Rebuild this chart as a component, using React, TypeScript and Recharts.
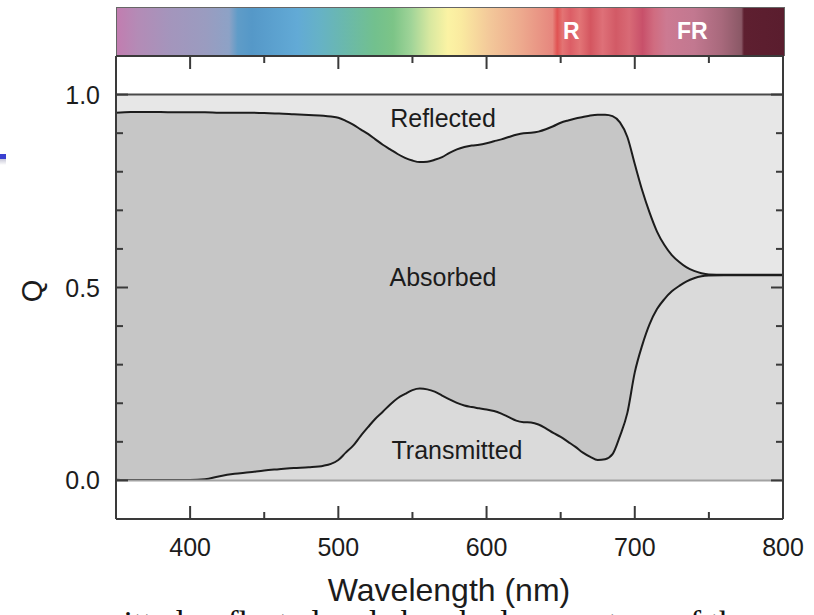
import { ComposedChart, Area, XAxis, YAxis, ReferenceArea, ReferenceLine } from "recharts";

// wavelength (nm)
const wavelength = [
  350, 360, 370, 380, 390, 400, 410, 420, 430, 440, 450, 460, 470, 480, 490, 495, 500, 505, 510, 515,
  520, 525, 530, 535, 540, 545, 550, 555, 560, 565, 570, 575, 580, 585, 590, 595, 600, 605, 610, 615,
  620, 625, 630, 635, 640, 645, 650, 655, 660, 665, 670, 675, 680, 685, 690, 695, 700, 705, 710, 715,
  720, 725, 730, 735, 740, 745, 750, 760, 770, 780, 790, 800,
];

// 1 - reflected (upper edge of the absorbed band)
const notReflected = [
  0.953, 0.955, 0.955, 0.955, 0.954, 0.954, 0.954, 0.953, 0.953, 0.953, 0.952, 0.951, 0.949, 0.947, 0.945, 0.943, 0.94, 0.932, 0.922, 0.91,
  0.898, 0.884, 0.87, 0.858, 0.846, 0.836, 0.829, 0.825, 0.826, 0.831, 0.838, 0.849, 0.858, 0.864, 0.868, 0.87, 0.874, 0.879, 0.884, 0.89,
  0.896, 0.9, 0.901, 0.904, 0.91, 0.918, 0.927, 0.933, 0.938, 0.942, 0.946, 0.948, 0.948, 0.944, 0.928, 0.89, 0.82, 0.752, 0.694, 0.645,
  0.61, 0.584, 0.566, 0.552, 0.543, 0.537, 0.534, 0.533, 0.533, 0.533, 0.533, 0.533,
];

// transmitted (lower edge of the absorbed band)
const transmitted = [
  0.002, 0.001, 0.001, 0.001, 0.001, 0.001, 0.003, 0.011, 0.017, 0.021, 0.026, 0.029, 0.032, 0.034, 0.038, 0.043, 0.053, 0.072, 0.09, 0.115,
  0.138, 0.16, 0.178, 0.197, 0.213, 0.224, 0.234, 0.238, 0.236, 0.23, 0.22, 0.21, 0.201, 0.194, 0.19, 0.187, 0.184, 0.18, 0.173, 0.164,
  0.155, 0.151, 0.15, 0.145, 0.135, 0.123, 0.113, 0.1, 0.087, 0.072, 0.061, 0.053, 0.055, 0.068, 0.115, 0.175, 0.28, 0.35, 0.405, 0.444,
  0.47, 0.49, 0.504, 0.516, 0.524, 0.529, 0.531, 0.532, 0.532, 0.532, 0.532, 0.532,
];

const xTicks = [400, 450, 500, 550, 600, 650, 700, 750, 800];
const yTicks = [0, 0.1, 0.2, 0.3, 0.4, 0.5, 0.6, 0.7, 0.8, 0.9, 1.0];
const yLabelled = [0, 0.5, 1.0];

const data = wavelength.map((w, i) => ({ w, top: notReflected[i], trans: transmitted[i] }));

const FONT = "'Liberation Sans', Arial, Helvetica, sans-serif";
const INK = "#1c1c1c";
const AXIS = "#3a3a3a";

const isMajorY = (v: number) => yLabelled.some((l) => Math.abs(l - v) < 1e-6);

function BottomTick({ x, y, payload }: any) {
  const v = payload.value as number;
  const major = v % 100 === 0;
  return (
    <g>
      {v < 800 && <line x1={x} x2={x} y1={y} y2={y - (major ? 13 : 7)} stroke={AXIS} strokeWidth={2} />}
      {major && (
        <text x={x} y={y + 37} textAnchor="middle" fontSize={25} fill={INK} fontFamily={FONT}>{v}</text>
      )}
    </g>
  );
}

function TopTick({ x, y, payload }: any) {
  const v = payload.value as number;
  if (v >= 800) return <g />;
  const major = v % 100 === 0;
  return <line x1={x} x2={x} y1={y} y2={y + (major ? 13 : 7)} stroke={AXIS} strokeWidth={2} />;
}

function LeftTick({ x, y, payload }: any) {
  const v = payload.value as number;
  const major = isMajorY(v);
  return (
    <g>
      <line x1={x} x2={x + (major ? 12 : 7)} y1={y} y2={y} stroke={AXIS} strokeWidth={2} />
      {major && (
        <text x={x - 16} y={y} dy="0.36em" textAnchor="end" fontSize={25} fill={INK} fontFamily={FONT}>
          {v.toFixed(1)}
        </text>
      )}
    </g>
  );
}

function RightTick({ x, y, payload }: any) {
  const v = payload.value as number;
  const major = isMajorY(v);
  return <line x1={x} x2={x - (major ? 12 : 7)} y1={y} y2={y} stroke={AXIS} strokeWidth={2} />;
}

const spectrum =
  "linear-gradient(to right, #c27db0 0%, #b48bb6 3%, #a495bc 7.9%, #9a9cc0 13.3%, #8da2c6 16.8%, #5f9cc8 18.1%, #5598c8 20.2%, " +
  "#62aad6 27%, #66b2c6 30.4%, #6ab8ae 33.9%, #72c08e 38.6%, #7cc487 41.4%, #a0d498 44.1%, #d8e8a0 46.9%, #fbf3a4 49.6%, " +
  "#faeaa0 51.6%, #f3c99a 55.7%, #edaa8e 60.5%, #e6867e 65.3%, #e05252 66%, #e37474 66.8%, #dc5e66 68%, #e27476 69.4%, " +
  "#d45660 71%, #de7078 72.8%, #d25a66 74.8%, #d86a76 76.8%, #c8506a 78.8%, #d06c80 80.5%, #cc7a92 82.4%, #c27890 86.5%, " +
  "#a8697c 90.6%, #8a5866 93.6%, #5e1f30 94%, #5a1d2e 100%)";

export default function App() {
  return (
    <div style={{ position: "absolute", left: 0, top: 0, width: 814, height: 615, overflow: "hidden", background: "#fff", fontFamily: FONT }}>
      {/* spectrum strip */}
      <div style={{ position: "absolute", left: 116, top: 7, width: 667, height: 48, background: spectrum, border: "1px solid #666", borderBottom: "none", boxSizing: "content-box" }} />
      <div style={{ position: "absolute", left: 563, top: 18, fontSize: 23, fontWeight: 700, color: "#fff" }}>R</div>
      <div style={{ position: "absolute", left: 677, top: 18, fontSize: 23, fontWeight: 700, color: "#fff" }}>FR</div>

      {/* slide bullet remnant */}
      <div style={{ position: "absolute", left: 0, top: 154, width: 6, height: 5, background: "#3a40d0" }} />
      <div style={{ position: "absolute", left: 0, top: 159, width: 6, height: 6, background: "linear-gradient(#c8c8d8, #ffffff)" }} />

      {/* cropped caption line below the figure */}
      <div style={{ position: "absolute", left: 97, top: 606, fontSize: 34, fontFamily: "'Liberation Serif', 'Times New Roman', serif", color: "#111", whiteSpace: "nowrap", lineHeight: "34px" }}>
        mitted, reflected and absorbed percentage of the
      </div>

      <div style={{ position: "absolute", left: 0, top: 0 }}>
        <ComposedChart width={814} height={615} data={data} margin={{ top: 55, right: 30, bottom: 56, left: 76 }}>
          <XAxis dataKey="w" type="number" domain={[350, 800]} allowDataOverflow ticks={xTicks} interval={0}
            height={40} tickSize={0} tickMargin={0} tickLine={false} tick={BottomTick}
            axisLine={{ stroke: AXIS, strokeWidth: 2 }} />
          <XAxis xAxisId="t" orientation="top" dataKey="w" type="number" domain={[350, 800]} allowDataOverflow ticks={xTicks} interval={0}
            height={1} tickSize={0} tickMargin={0} tickLine={false} tick={TopTick}
            axisLine={{ stroke: AXIS, strokeWidth: 2 }} />
          <YAxis type="number" domain={[-0.1, 1.1]} allowDataOverflow ticks={yTicks} interval={0}
            width={40} tickSize={0} tickMargin={0} tickLine={false} tick={LeftTick}
            axisLine={{ stroke: AXIS, strokeWidth: 2 }} />
          <YAxis yAxisId="r" orientation="right" type="number" domain={[-0.1, 1.1]} allowDataOverflow ticks={yTicks} interval={0}
            width={1} tickSize={0} tickMargin={0} tickLine={false} tick={RightTick}
            axisLine={{ stroke: AXIS, strokeWidth: 2 }} />

          <ReferenceArea x1={350} x2={800} y1={0} y2={1} fill="#e7e7e7" fillOpacity={1} stroke="none" />
          <Area dataKey="top" type="monotone" baseValue={0} fill="#c6c6c6" fillOpacity={1}
            stroke={INK} strokeWidth={2} dot={false} activeDot={false} isAnimationActive={false} />
          <Area dataKey="trans" type="monotone" baseValue={0} fill="#dadada" fillOpacity={1}
            stroke={INK} strokeWidth={2} dot={false} activeDot={false} isAnimationActive={false} />
          <ReferenceLine y={1} stroke="#4a4a4a" strokeWidth={2} />
          <ReferenceLine y={0} stroke="#a2a2a2" strokeWidth={2} />
        </ComposedChart>
      </div>

      {/* region labels */}
      <div style={{ position: "absolute", left: 443, top: 118, transform: "translate(-50%, -50%)", fontSize: 25, color: INK, whiteSpace: "nowrap" }}>Reflected</div>
      <div style={{ position: "absolute", left: 443, top: 277, transform: "translate(-50%, -50%)", fontSize: 25, color: INK, whiteSpace: "nowrap" }}>Absorbed</div>
      <div style={{ position: "absolute", left: 457, top: 450, transform: "translate(-50%, -50%)", fontSize: 25, color: INK, whiteSpace: "nowrap" }}>Transmitted</div>

      {/* axis titles */}
      <div style={{ position: "absolute", left: 32, top: 291, transform: "translate(-50%, -50%) rotate(-90deg)", fontSize: 29, color: INK }}>Q</div>
      <div style={{ position: "absolute", left: 449, top: 590, transform: "translate(-50%, -50%)", fontSize: 32, color: INK, whiteSpace: "nowrap" }}>Wavelength (nm)</div>
    </div>
  );
}
